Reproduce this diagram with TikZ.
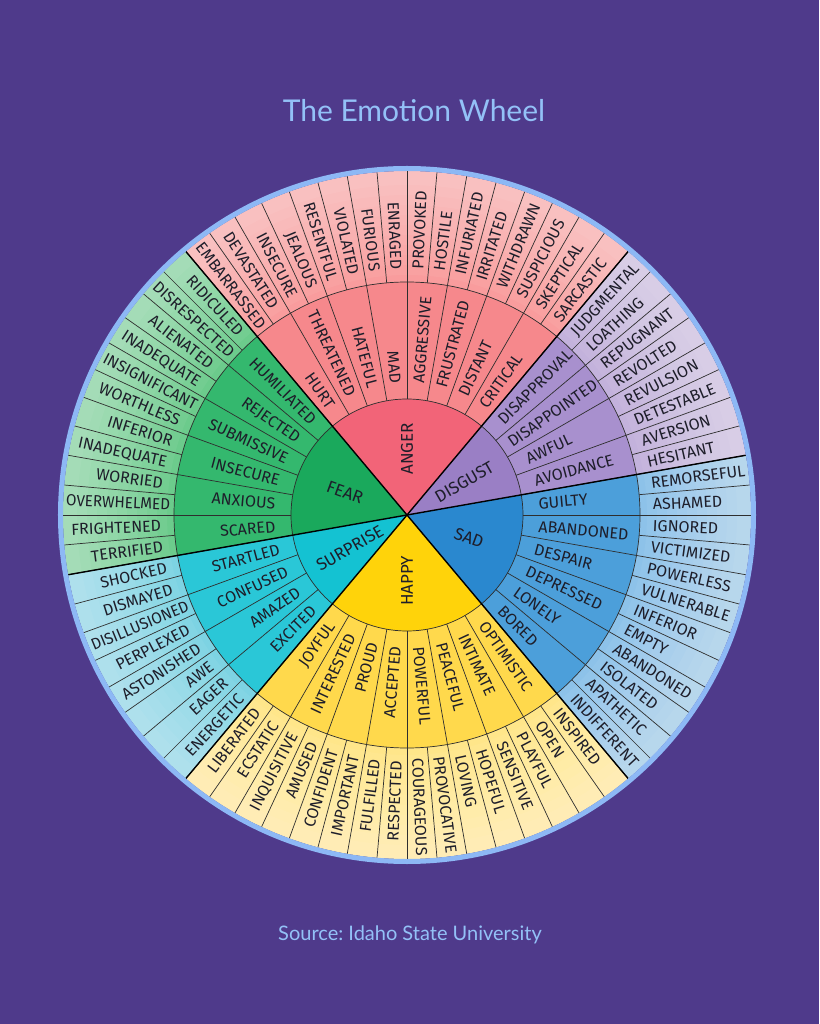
\documentclass[tikz,border=0pt]{standalone}
\usepackage{fontspec}
\setmainfont{Fira Sans}
\newfontfamily\titlefont{Lato}

\definecolor{bgpurple}{HTML}{4F3A8B}
\definecolor{rimblue}{HTML}{8DB8F5}
\definecolor{titleblue}{HTML}{93C1F7}
\definecolor{linegray}{HTML}{2E2E2E}
\definecolor{inkgray}{HTML}{1E1E2A}
\definecolor{angerC}{HTML}{F26478}
\definecolor{angerM}{HTML}{F6888C}
\definecolor{angerO}{HTML}{F99C9D}
\definecolor{fearC}{HTML}{1AA95C}
\definecolor{fearM}{HTML}{34B86E}
\definecolor{fearO}{HTML}{6CCB8C}
\definecolor{surpriseC}{HTML}{14C2D2}
\definecolor{surpriseM}{HTML}{2AC7D7}
\definecolor{surpriseO}{HTML}{7DD3E3}
\definecolor{happyC}{HTML}{FFD30A}
\definecolor{happyM}{HTML}{FFD94C}
\definecolor{happyO}{HTML}{FFE68A}
\definecolor{sadC}{HTML}{2A88CF}
\definecolor{sadM}{HTML}{4C9FDA}
\definecolor{sadO}{HTML}{8DC2E9}
\definecolor{disgustC}{HTML}{9A7FC5}
\definecolor{disgustM}{HTML}{A890CE}
\definecolor{disgustO}{HTML}{C3B2DC}

\newlength\wordlen
\newcommand\wordfont{\fontsize{16}{16}\selectfont}

% words counter-clockwise, first angle / list
\newcommand\outerwords{
    12.5/{HESITANT,AVERSION,DETESTABLE,REVULSION,REVOLTED,REPUGNANT,LOATHING,JUDGMENTAL},
    52.5/{SARCASTIC,SKEPTICAL,SUSPICIOUS,WITHDRAWN,IRRITATED,INFURIATED,HOSTILE,PROVOKED,
          ENRAGED,FURIOUS,VIOLATED,RESENTFUL,JEALOUS,INSECURE,DEVASTATED,EMBARRASSED},
    132.5/{RIDICULED,DISRESPECTED,ALIENATED,INADEQUATE,INSIGNIFICANT,WORTHLESS,INFERIOR,
           INADEQUATE,WORRIED,OVERWHELMED,FRIGHTENED,TERRIFIED},
    192.5/{SHOCKED,DISMAYED,DISILLUSIONED,PERPLEXED,ASTONISHED,AWE,EAGER,ENERGETIC},
    232.5/{LIBERATED,ECSTATIC,INQUISITIVE,AMUSED,CONFIDENT,IMPORTANT,FULFILLED,RESPECTED,
           COURAGEOUS,PROVOCATIVE,LOVING,HOPEFUL,SENSITIVE,PLAYFUL,OPEN,INSPIRED},
    312.5/{INDIFFERENT,APATHETIC,ISOLATED,ABANDONED,EMPTY,INFERIOR,VULNERABLE,POWERLESS,
           VICTIMIZED,IGNORED,ASHAMED,REMORSEFUL}}
\newcommand\middlewords{
    15/{AVOIDANCE,AWFUL,DISAPPOINTED,DISAPPROVAL},
    55/{CRITICAL,DISTANT,FRUSTRATED,AGGRESSIVE,MAD,HATEFUL,THREATENED,HURT},
    135/{HUMILIATED,REJECTED,SUBMISSIVE,INSECURE,ANXIOUS,SCARED},
    195/{STARTLED,CONFUSED,AMAZED,EXCITED},
    235/{JOYFUL,INTERESTED,PROUD,ACCEPTED,POWERFUL,PEACEFUL,INTIMATE,OPTIMISTIC},
    315/{BORED,LONELY,DEPRESSED,DESPAIR,ABANDONED,GUILTY}}

\tikzset{
  divider/.style={draw=linegray, line width=0.7pt},
  catline/.style={draw=black, line width=1.4pt},
  wordlabel/.style={font=\wordfont, text=inkgray, inner sep=0pt, text depth=0pt},
  catlabel/.style={font=\fontsize{17}{17}\selectfont, text=inkgray, inner sep=0pt, text depth=0pt},
}

\begin{document}
% measure every word once, before the picture
\foreach \s/\words in \outerwords {
    \foreach \word in \words {
        \settowidth{\wordlen}{\wordfont\word}
        \expandafter\xdef\csname wl-\word\endcsname{\the\wordlen}
    }
}
\foreach \s/\words in \middlewords {
    \foreach \word in \words {
        \settowidth{\wordlen}{\wordfont\word}
        \expandafter\xdef\csname wl-\word\endcsname{\the\wordlen}
    }
}
\begin{tikzpicture}[x=1pt, y=1pt]
    \fill[bgpurple] (-407,-509) rectangle (412,515);
    \useasboundingbox (-407,-509) rectangle (412,515);

    % wedges: outer, middle, centre
    \foreach \a/\b/\cat in {10/50/disgust, 50/130/anger, 130/190/fear,
                            190/230/surprise, 230/310/happy, 310/370/sad} {
        \fill[\cat O] (0,0) -- (\a:344) arc[start angle=\a, end angle=\b, radius=344] -- cycle;
        \fill[\cat M] (0,0) -- (\a:233) arc[start angle=\a, end angle=\b, radius=233] -- cycle;
        \fill[\cat C] (0,0) -- (\a:116) arc[start angle=\a, end angle=\b, radius=116] -- cycle;
    }
    \foreach \k in {0,...,9}
        \fill[white, opacity=0.05, even odd rule] (0,0) circle ({240+10*\k}) circle (344);

    \foreach \t in {0,5,...,355}
        \draw[divider] (\t:233) -- (\t:344);
    \foreach \t in {0,10,...,350}
        \draw[divider] (\t:116) -- (\t:233);
    \draw[divider] (0,0) circle (116);
    \draw[divider] (0,0) circle (233);
    \foreach \t in {10,50,130,190,230,310}
        \draw[catline] (0,0) -- (\t:344);
    \draw[rimblue, line width=5pt] (0,0) circle (346.5);

    % outer ring
    \foreach \s/\words in \outerwords {
        \foreach \word [count=\i from 0] in \words {
            \pgfmathsetmacro{\ang}{\s+5*\i}
            \pgfmathtruncatemacro{\idx}{2*\ang}
            \edef\wl{\csname wl-\word\endcsname}
            \pgfmathsetmacro{\wl}{max(1, \wl)}
            \pgfmathsetmacro{\sx}{min(1, 104/\wl)}
            \pgfmathsetmacro{\rs}{max(236, min(246, 341-\sx*\wl))}
            \pgfmathtruncatemacro{\isright}{cos(\ang) > 0.01 ? 1 : 0}
            \ifnum\isright=1
                \node[wordlabel, anchor=west, rotate=\ang, xscale=\sx] (out-\idx) at (\ang:\rs) {\word};
            \else
                \node[wordlabel, anchor=east, rotate=\ang+180, xscale=\sx] (out-\idx) at (\ang:\rs) {\word};
            \fi
        }
    }

    % middle ring
    \foreach \s/\words in \middlewords {
        \foreach \word [count=\i from 0] in \words {
            \pgfmathsetmacro{\ang}{\s+10*\i}
            \pgfmathtruncatemacro{\idx}{\ang}
            \edef\wl{\csname wl-\word\endcsname}
            \pgfmathsetmacro{\wl}{max(1, \wl)}
            \pgfmathsetmacro{\sx}{min(1, 108/\wl)}
            \pgfmathsetmacro{\rs}{max(120, min(132, 230-\sx*\wl))}
            \pgfmathtruncatemacro{\isright}{cos(\ang) > 0.01 ? 1 : 0}
            \ifnum\isright=1
                \node[wordlabel, anchor=west, rotate=\ang, xscale=\sx] (mid-\idx) at (\ang:\rs) {\word};
            \else
                \node[wordlabel, anchor=east, rotate=\ang+180, xscale=\sx] (mid-\idx) at (\ang:\rs) {\word};
            \fi
        }
    }

    % core emotions
    \foreach \ang/\rot/\lab in {30/30/DISGUST, 90/90/ANGER, 160/-20/FEAR,
                                210/30/SURPRISE, 270/90/HAPPY, 340/-20/SAD}
        \node[catlabel, rotate=\rot] (core-\lab) at (\ang:66) {\lab};

    \node[font=\titlefont\fontsize{30}{30}\selectfont, text=titleblue] (title) at (7,404) {The Emotion Wheel};
    \node[font=\titlefont\fontsize{20}{20}\selectfont, text=titleblue] (source) at (3,-420) {Source:\ Idaho State University};
\end{tikzpicture}
\end{document}
